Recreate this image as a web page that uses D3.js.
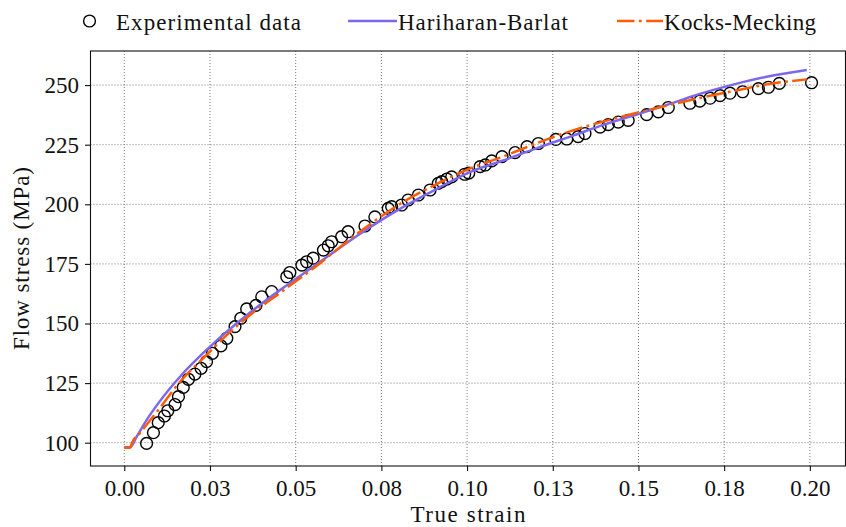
<!DOCTYPE html>
<html>
<head>
<meta charset="utf-8">
<script src="https://cdn.jsdelivr.net/npm/d3@7"></script>
<style>
  body { margin: 0; background: #fff; }
  text { font-family: "Liberation Serif", "Times New Roman", serif; fill: #111; }
</style>
</head>
<body>
<script>
// experimental points (true strain, flow stress in MPa)
var expStrain = [0.0065, 0.0085, 0.0099, 0.0117, 0.0127, 0.0148, 0.0158, 0.0172, 0.0187, 0.0206,
  0.0224, 0.0240, 0.0257, 0.0282, 0.0299, 0.0323, 0.0340, 0.0357, 0.0384, 0.0401,
  0.0430, 0.0474, 0.0483, 0.0518, 0.0532, 0.0551, 0.0581, 0.0595, 0.0605, 0.0634,
  0.0653, 0.0702, 0.0731, 0.0770, 0.0780, 0.0809, 0.0828, 0.0858, 0.0892, 0.0916,
  0.0926, 0.0941, 0.0955, 0.0993, 0.1005, 0.1038, 0.1053, 0.1072, 0.1102, 0.1140,
  0.1175, 0.1208, 0.1259, 0.1291, 0.1324, 0.1344, 0.1388, 0.1412, 0.1441, 0.1470,
  0.1524, 0.1558, 0.1587, 0.1650, 0.1679, 0.1709, 0.1738, 0.1767, 0.1804, 0.1850,
  0.1879, 0.1911, 0.2005];
var expStress = [99.7, 104.2, 108.4, 111.2, 113.4, 116.0, 119.3, 123.2, 126.6, 128.8,
  131.2, 134.0, 137.5, 140.6, 143.8, 148.7, 152.2, 156.1, 157.6, 161.2,
  163.4, 169.6, 171.4, 174.5, 175.9, 177.4, 180.8, 182.6, 184.3, 186.4,
  188.5, 190.9, 194.7, 198.3, 199.0, 199.7, 201.8, 203.9, 206.0, 208.8,
  209.5, 210.6, 211.5, 212.6, 213.1, 215.8, 216.5, 218.2, 220.0, 221.7,
  224.2, 225.5, 227.2, 227.4, 228.4, 229.7, 232.4, 233.4, 234.5, 235.2,
  237.6, 238.8, 240.6, 242.4, 243.3, 244.5, 245.6, 246.6, 247.2, 248.5,
  249.1, 250.7, 251.0];

// Hariharan-Barlat model
var hbStrain = [0, 0.0017, 0.0036, 0.0065, 0.0099, 0.0167, 0.0245, 0.0367, 0.0454, 0.0551,
  0.0697, 0.0814, 0.0911, 0.1008, 0.1110, 0.1208, 0.1305, 0.1402, 0.1499, 0.1592,
  0.1679, 0.1776, 0.1874, 0.1991];
var hbStress = [98.1, 98.1, 102.5, 109.5, 116.5, 128.4, 139.6, 154.6, 164.0, 173.8,
  188.5, 198.9, 206.4, 213.5, 218.6, 223.8, 228.6, 233.5, 237.9, 242.1,
  246.3, 250.2, 253.5, 256.3];

// Kocks-Mecking model
var kmStrain = [0, 0.0017, 0.0022, 0.0046, 0.0099, 0.0167, 0.0235, 0.0294, 0.0367, 0.0454,
  0.0551, 0.0702, 0.0814, 0.0911, 0.1008, 0.1110, 0.1208, 0.1305, 0.1402, 0.1499,
  0.1592, 0.1679, 0.1777, 0.1874, 0.1991];
var kmStress = [97.9, 97.9, 99.8, 104.1, 113.7, 126.3, 136.1, 144.5, 153.6, 162.8,
  173.1, 190.1, 201.0, 208.5, 215.0, 220.3, 225.9, 230.8, 234.9, 238.5,
  241.7, 244.6, 247.5, 250.3, 252.4];

var xTicks = [0, 0.025, 0.05, 0.075, 0.1, 0.125, 0.15, 0.175, 0.2];
var xTickLabels = ["0.00", "0.03", "0.05", "0.08", "0.10", "0.13", "0.15", "0.18", "0.20"];
var yTicks = [100, 125, 150, 175, 200, 225, 250];

var width = 846, height = 527,
    plotLeft = 90.5, plotRight = 845.5, plotTop = 51, plotBottom = 466,
    fontSize = 23;

var svg = d3.select("body").append("svg")
    .attr("width", width)
    .attr("height", height);

var x = d3.scaleLinear().domain([-0.00986, 0.2104]).range([plotLeft, plotRight]);
var y = d3.scaleLinear().domain([90.23, 264.3]).range([plotBottom, plotTop]);

// grid
var grid = svg.append("g").attr("class", "grid");
grid.selectAll(".gx").data(xTicks).enter().append("line")
    .attr("x1", function(d) { return x(d); })
    .attr("x2", function(d) { return x(d); })
    .attr("y1", plotTop).attr("y2", plotBottom);
grid.selectAll(".gy").data(yTicks).enter().append("line")
    .attr("y1", function(d) { return y(d); })
    .attr("y2", function(d) { return y(d); })
    .attr("x1", plotLeft).attr("x2", plotRight);
grid.selectAll("line")
    .attr("stroke", "#777")
    .attr("stroke-width", 1)
    .attr("stroke-dasharray", "1,2");

// axes
var xAx = svg.append("g")
    .attr("transform", "translate(0," + plotBottom + ")")
    .call(d3.axisBottom(x).tickValues(xTicks)
        .tickFormat(function(d, i) { return xTickLabels[i]; })
        .tickSize(5).tickPadding(8.5));
var yAx = svg.append("g")
    .attr("transform", "translate(" + plotLeft + ",0)")
    .call(d3.axisLeft(y).tickValues(yTicks).tickSize(5.5).tickPadding(6));
[xAx, yAx].forEach(function(ax) {
  ax.attr("font-family", null).attr("font-size", null);
  ax.select(".domain").remove();
  ax.selectAll(".tick line").attr("stroke", "#111").attr("stroke-width", 1.1);
  ax.selectAll(".tick text").style("font-size", fontSize + "px");
});

// experimental circles
svg.append("g").selectAll("circle")
    .data(expStrain).enter().append("circle")
    .attr("cx", function(d) { return x(d); })
    .attr("cy", function(d, i) { return y(expStress[i]); })
    .attr("r", 5.9)
    .attr("fill", "none")
    .attr("stroke", "#000")
    .attr("stroke-width", 1.4);

var line = d3.line()
    .x(function(d) { return x(d[0]); })
    .y(function(d) { return y(d[1]); })
    .curve(d3.curveMonotoneX);

svg.append("path")
    .datum(d3.zip(hbStrain, hbStress))
    .attr("d", line)
    .attr("fill", "none")
    .attr("stroke", "#7b68ee")
    .attr("stroke-width", 2.5);

svg.append("path")
    .datum(d3.zip(kmStrain, kmStress))
    .attr("d", line)
    .attr("fill", "none")
    .attr("stroke", "#ff5b00")
    .attr("stroke-width", 2.5)
    .attr("stroke-dasharray", "17.5,4.4,2.8,4.4");

// frame
svg.append("rect")
    .attr("x", plotLeft).attr("y", plotTop)
    .attr("width", plotRight - plotLeft).attr("height", plotBottom - plotTop)
    .attr("fill", "none")
    .attr("stroke", "#111")
    .attr("stroke-width", 1.1);

// axis labels
svg.append("text")
    .attr("x", (plotLeft + plotRight) / 2).attr("y", 522)
    .attr("text-anchor", "middle")
    .attr("textLength", 115).attr("lengthAdjust", "spacing")
    .style("font-size", fontSize + "px")
    .text("True strain");

svg.append("text")
    .attr("transform", "translate(29," + (plotTop + plotBottom) / 2 + ") rotate(-90)")
    .attr("text-anchor", "middle")
    .attr("textLength", 183).attr("lengthAdjust", "spacing")
    .style("font-size", fontSize + "px")
    .text("Flow stress (MPa)");

// legend
var legend = svg.append("g");
legend.append("circle")
    .attr("cx", 89.5).attr("cy", 21).attr("r", 5.9)
    .attr("fill", "none").attr("stroke", "#000").attr("stroke-width", 1.4);
legend.append("text").attr("x", 116).attr("y", 30)
    .attr("textLength", 185).attr("lengthAdjust", "spacing")
    .style("font-size", fontSize + "px").text("Experimental data");

legend.append("line")
    .attr("x1", 348).attr("x2", 397).attr("y1", 21).attr("y2", 21)
    .attr("stroke", "#7b68ee").attr("stroke-width", 2.5);
legend.append("text").attr("x", 398).attr("y", 30)
    .attr("textLength", 170).attr("lengthAdjust", "spacing")
    .style("font-size", fontSize + "px").text("Hariharan-Barlat");

legend.append("line")
    .attr("x1", 617).attr("x2", 663).attr("y1", 21).attr("y2", 21)
    .attr("stroke", "#ff5b00").attr("stroke-width", 2.5)
    .attr("stroke-dasharray", "17.5,4.4,2.8,4.4");
legend.append("text").attr("x", 664).attr("y", 30)
    .attr("textLength", 152).attr("lengthAdjust", "spacing")
    .style("font-size", fontSize + "px").text("Kocks-Mecking");
</script>
</body>
</html>
